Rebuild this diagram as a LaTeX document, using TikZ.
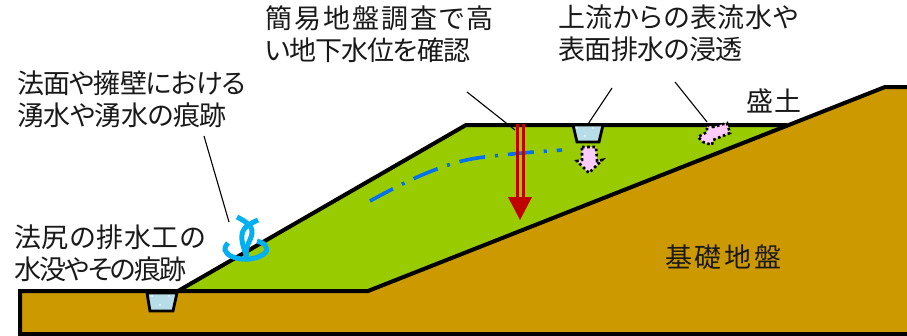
\documentclass[tikz,border=0pt]{standalone}
\usepackage{fontspec}
\newfontfamily\jp[RawFeature=+palt]{Noto Sans CJK JP}
\definecolor{soil}{HTML}{CC9900}
\definecolor{bank}{HTML}{99CC00}
\definecolor{wat}{HTML}{B7DEE8}
\definecolor{drk}{HTML}{C00000}
\definecolor{blu}{HTML}{0070F0}
\definecolor{cya}{HTML}{00B0F0}
\definecolor{pnk}{HTML}{FFCCFF}
\newcommand{\spc}[2]{{\addfontfeature{LetterSpace=#1}#2}}
\tikzset{
  lab/.style={font=\jp\fontsize{27pt}{32pt}\selectfont,anchor=north west,inner sep=0pt,align=left,text=black!90},
  lead/.style={draw=black,line width=1.1pt},
  ditch/.style={draw=black,line width=2.8pt,fill=wat,line join=miter},
  seep/.style={fill=pnk,draw=black,line width=2.6pt,dash pattern=on 2.6pt off 2.6pt},
  outl/.style={draw=black,line width=4pt,line join=miter},
  speck/.style={fill=white,circle,inner sep=0pt,minimum size=1.6pt},
  sprng/.style={cya,line width=5pt}
}
\begin{document}
\begin{tikzpicture}[x=1pt,y=-1pt]
\useasboundingbox (0,0) rectangle (907,335);
\begin{scope}
\clip (0,0) rectangle (907,335);
\fill[soil] (20,291) -- (368,291) -- (885,87) -- (907,87) -- (907,334) -- (20,334) -- cycle;
\fill[bank] (178,291) -- (466,125) -- (787,125) -- (368,291) -- cycle;
\draw[outl] (178,291) -- (466,125) -- (787,125);
\draw[outl] (907,87) -- (885,87) -- (368,291) -- (20,291) -- (20,334) -- (907,334);
\end{scope}
% ditches
\draw[ditch] (573,125) -- (603,125) -- (599,142) -- (577,142) -- cycle;
\node[speck] (s1) at (577,128) {}; \node[speck] (s2) at (593,128) {}; \node[speck] (s3) at (585,136) {};
\draw[ditch] (147,293) -- (177,293) -- (173,311) -- (150,311) -- cycle;
\node[speck] (s4) at (152,296) {}; \node[speck] (s5) at (169,296) {}; \node[speck] (s6) at (160,305) {};
% seep
\draw[seep] (582,147) -- (596,147) -- (597,161) -- (602,160) -- (589,173) -- (577,161) -- (582,160) -- cycle;
\draw[seep] (707,125) -- (713,127) -- (727,123) -- (730,133) -- (713,140) -- (712,145) -- (703,142) -- (698,137) -- (707,132) -- cycle;
% groundwater
\draw[blu,line width=3.6pt,dash pattern=on 26pt off 10pt on 3pt off 10pt] plot[smooth,tension=.6] coordinates {(370,201) (415,178) (462,161) (512,154) (562,150)};
% red arrow
\draw[drk,line width=3pt] (517,124) -- (517,198);
\draw[drk,line width=3pt] (523,124) -- (523,198);
\fill[drk] (508,197) -- (532,197) -- (520,220) -- cycle;
% spring
\draw[sprng] plot[smooth,tension=.7] coordinates {(237,217) (248,224) (252,233) (247,247) (246,256)};
\draw[sprng] plot[smooth,tension=.7] coordinates {(258,220) (245,228) (242,240) (247,257)};
\draw[sprng] plot[smooth,tension=.7] coordinates {(228,243) (225,250) (233,257) (250,259) (265,253) (265,245) (257,241)};
% leaders
\coordinate (l1a) at (204,136); \coordinate (l1b) at (229,222);
\coordinate (l2a) at (467,92); \coordinate (l2b) at (515,130);
\coordinate (l3a) at (612,88); \coordinate (l3b) at (588,124);
\coordinate (l4a) at (675,82); \coordinate (l4b) at (707,122);
\draw[lead] (l1a) -- (l1b);
\draw[lead] (l2a) -- (l2b);
\draw[lead] (l3a) -- (l3b);
\draw[lead] (l4a) -- (l4b);
% labels
\node[lab] (a) at (265,5) {\spc{7.4}{簡易地盤調査で高}\\\spc{-4}{い地下水位を確認}};
\node[lab] (b) at (558,5) {\spc{2}{上流からの表流水や}\\\spc{-2}{表面排水の浸透}};
\node[lab] (c) at (17,71) {\spc{-3.3}{法面や擁壁における}\\\spc{-2}{湧水や湧水の痕跡}};
\node[lab] (d) at (14,225) {\spc{2.6}{法尻の排水工の}\\\spc{-7}{水没やその痕跡}};
\node[lab] (e) at (746,89) {\spc{6}{盛土}};
\node[lab] (f) at (665,245) {\spc{10}{基礎地盤}};
\end{tikzpicture}
\end{document}
